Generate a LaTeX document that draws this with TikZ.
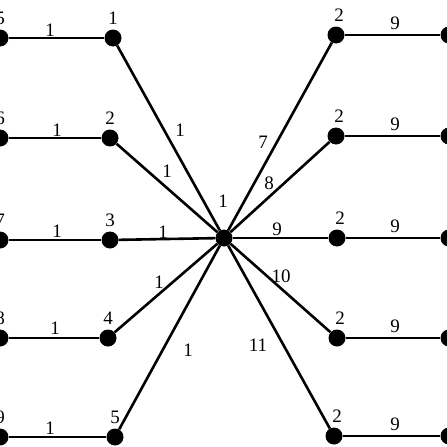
\documentclass[tikz,border=0pt]{standalone}
\usepackage{fontspec}
\setmainfont{Liberation Serif}
\begin{document}
\begin{tikzpicture}[x=1pt,y=-1pt,
  dot/.style={circle,fill=black,inner sep=0pt,minimum size=17pt},
  lbl/.style={font=\fontsize{19}{20}\selectfont,inner sep=0pt},
  edge/.style={line width=2.6pt}]
\useasboundingbox (0,0) rectangle (447,447);
\clip (0,0) rectangle (447,447);
% hub
\node[dot] (c) at (224,238) {};
\node[lbl] at (223,201) {1};
% left branches
\foreach \i/\y/\x/\l/\f in {1/38/113/5/1,2/138/110/6/2,3/240/110/7/3,4/338/108/8/4,5/437/115/9/5}{
  \node[dot] (l\i) at (0,\y) {};
  \node[dot] (m\i) at (\x,\y) {};
  \draw[edge] (l\i) -- (m\i);
  \node[lbl] at (0,\y-20) {\l};
  \node[lbl] at (\x,\y-20) {\f};
  \draw[edge] (m\i) -- (c);
}
\node[lbl] at (50,30) {1};
\node[lbl] at (57,130) {1};
\node[lbl] at (57,231) {1};
\node[lbl] at (55,328) {1};
\node[lbl] at (50,428) {1};
\node[lbl] at (180,130) {1};
\node[lbl] at (167,171) {1};
\node[lbl] at (163,232) {1};
\node[lbl] at (159,282) {1};
\node[lbl] at (188,350) {1};
% right branches
\foreach \i/\y/\x in {1/35/336,2/136/336,3/238/337,4/338/337,5/436/334}{
  \node[dot] (r\i) at (\x,\y) {};
  \node[dot] (s\i) at (449,\y) {};
  \draw[edge] (r\i) -- (s\i);
  \node[lbl] at (\x+3,\y-20) {2};
  \node[lbl] at (395,\y-12) {9};
  \draw[edge] (c) -- (r\i);
}
\node[lbl] at (263,142) {7};
\node[lbl] at (269,183) {8};
\node[lbl] at (277,229) {9};
\node[lbl] at (281,276) {10};
\node[lbl] at (258,345) {11};
\end{tikzpicture}
\end{document}
